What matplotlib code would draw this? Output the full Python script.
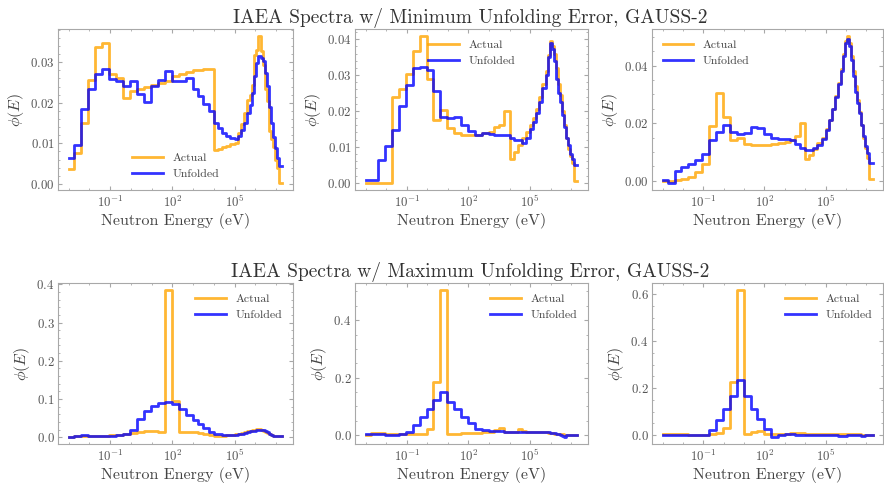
import numpy as np
import matplotlib
matplotlib.use("Agg")
import matplotlib.pyplot as plt
from matplotlib.ticker import (FixedLocator, LogFormatterSciNotation, LogLocator,
                               NullFormatter, AutoMinorLocator, MaxNLocator)

# ---------------- data ----------------
energy_edges = [1.0e-3, 1.78e-3, 3.89e-3, 8.51e-3, 1.86e-2, 4.07e-2, 8.91e-2, 0.195,
                0.427, 0.933, 2.0, 4.37, 9.55, 20.9, 45.7, 100.0, 214.0, 468.0, 1.0e3,
                1.78e3, 3.16e3, 5.62e3, 1.0e4, 1.58e4, 2.51e4, 3.98e4, 6.31e4, 1.0e5,
                1.41e5, 2.0e5, 2.82e5, 3.98e5, 5.62e5, 7.08e5, 8.91e5, 1.12e6, 1.41e6,
                1.78e6, 2.24e6, 2.82e6, 3.55e6, 4.47e6, 5.62e6, 7.08e6, 8.91e6, 1.12e7,
                1.41e7, 2.0e7]

min1_actual = [.0036, .0077, .015, .0257, .0337, .0348, .027, .0261, .0212, .0228,
               .0235, .024, .0245, .025, .0255, .0266, .0271, .0275, .028, .0282,
               .0284, .0284, .0084, .0087, .009, .0094, .0098, .0101, .0126, .0147,
               .0175, .0208, .022, .0245, .0319, .033, .0364, .0327, .0294, .0233,
               .0204, .013, .011, .009, .006, .004, .0003]
min1_unfolded = [.0065, .0096, .0184, .0233, .027, .0283, .0259, .0255, .0241, .0253,
                 .0222, .0202, .0241, .0257, .0278, .0253, .0255, .026, .0233, .0216,
                 .0196, .018, .015, .0139, .0126, .0118, .0112, .011, .0118, .0132,
                 .015, .0175, .0195, .0225, .0265, .0298, .0315, .031, .0302, .0274,
                 .0241, .019, .015, .0115, .0089, .0065, .0045]

min2_actual = [0.0, 0.0, 0.0, 0.0, .0238, .0261, .0303, .0368, .0408, .029,
               .0176, .0204, .0153, .0139, .0134, .0132, .0134, .0138, .0142, .0155,
               .016, .02, .0065, .0085, .0105, .0125, .014, .016, .018, .0205,
               .024, .0275, .031, .0355, .0395, .038, .036, .032, .0275, .0245,
               .02, .016, .0125, .0095, .0075, .0055, .0005]
min2_unfolded = [.0008, .0008, .0064, .0101, .0148, .0213, .0273, .032, .0322, .0315,
                 .0255, .0182, .0179, .0182, .0162, .0143, .0133, .0138, .0136, .0133,
                 .0132, .0132, .0125, .012, .012, .011, .0125, .015, .017, .0195,
                 .0225, .0265, .030, .035, .039, .0372, .034, .029, .025, .0225,
                 .019, .0155, .0125, .0105, .008, .0065, .005]

min3_actual = [0.0, 0.0, .0003, .0005, .0013, .003, .0058, .019, .0305, .0222,
               .0142, .015, .0129, .0125, .0125, .0125, .0127, .013, .0135, .014,
               .0155, .0201, .0075, .009, .011, .013, .015, .0178, .021, .025,
               .0295, .034, .039, .044, .0485, .0502, .048, .0435, .038, .033,
               .028, .024, .0195, .015, .0115, .008, .0007]
min3_unfolded = [.0001, -.0007, .0033, .0047, .0058, .0072, .0093, .0141, .017, .0193,
                 .017, .0161, .0167, .0186, .0184, .0161, .015, .0145, .0145, .0143,
                 .0127, .0113, .0107, .0106, .0112, .0125, .0145, .0175, .021, .025,
                 .029, .0335, .038, .0435, .048, .0493, .047, .042, .0365, .031,
                 .027, .0235, .0195, .0155, .012, .0095, .006]

max1_actual = [.002, .003, .003, .004, .004, .005, .006, .007, .009, .012,
               .015, .018, .018, .013, .384, .094, .013, .015, .015, .012,
               .008, .006, .005, .005, .005, .006, .007, .008, .01, .012,
               .014, .016, .018, .019, .02, .021, .021, .02, .018, .015,
               .011, .008, .006, .005, .005, .005, .005]
max1_unfolded = [.002, .004, .006, .004, .003, .003, .004, .006, .01, .02,
                 .047, .069, .082, .09, .093, .088, .075, .058, .045, .034,
                 .024, .015, .01, .008, .006, .006, .006, .007, .008, .01,
                 .012, .014, .016, .017, .018, .019, .02, .02, .02, .018,
                 .015, .01, .006, .004, .003, .003, .003]

max2_actual = [.002, .007, .007, .005, .004, .004, .004, .005, .006, .023,
               .185, .504, .006, .006, .007, .008, .009, .01, .012, .018,
               .025, .012, .01, .012, .02, .015, .012, .012, .012, .012,
               .012, .011, .01, .009, .008, .007, .006, .005, .005, .004,
               .003, .002, .002, .002, .002, .002, .002]
max2_unfolded = [.003, .006, .005, .002, .002, .003, .012, .035, .064, .093,
                 .122, .151, .116, .093, .064, .041, .02, .017, .016, .015,
                 .014, .013, .012, .012, .012, .011, .01, .01, .01, .01,
                 .011, .011, .011, .01, .009, .008, .007, .005, .003, .0,
                 -.004, -.005, .0, .002, .002, .002, .002]

max3_actual = [.004, .004, .004, .003, .002, .0, .002, .005, .01, .028,
               .226, .617, .005, .011, .016, .003, .004, .005, .006, .008,
               .009, .008, .006, .005, .005, .005, .004, .004, .004, .003,
               .003, .003, .003, .003, .003, .003, .003, .003, .003, .003,
               .003, .003, .002, .002, .002, .002, .002]
max3_unfolded = [.001, .001, .0, .0, .0, .0, .002, .021, .064, .113,
                 .167, .233, .167, .113, .068, .024, -.007, .002, .003, .003,
                 .002, .002, .002, .001, .001, .001, .0, .0, .0, .0,
                 -.001, -.002, -.003, -.003, -.002, -.001, .0, .0, .001, .001,
                 .0, -.001, -.002, -.002, -.001, .0, .0]

series_labels = ["Actual", "Unfolded"]
row_titles = ["IAEA Spectra w/ Minimum Unfolding Error, GAUSS-2",
              "IAEA Spectra w/ Maximum Unfolding Error, GAUSS-2"]
x_label = "Neutron Energy (eV)"
y_label = r"$\phi(E)$"
x_major_ticks = [1e-1, 1e2, 1e5]

# ---------------- style ----------------
plt.rcParams.update({
    "font.family": "serif",
    "font.serif": ["cmr10"],
    "mathtext.fontset": "cm",
    "axes.formatter.use_mathtext": True,
    "axes.unicode_minus": False,
    "axes.edgecolor": "#a8a8a8",
    "axes.linewidth": 0.8,
    "xtick.direction": "in",
    "ytick.direction": "in",
    "xtick.top": True,
    "ytick.right": True,
    "xtick.color": "#a8a8a8",
    "ytick.color": "#a8a8a8",
    "xtick.labelcolor": "#555555",
    "ytick.labelcolor": "#555555",
    "xtick.labelsize": 9.3,
    "ytick.labelsize": 9.3,
    "xtick.major.size": 3,
    "ytick.major.size": 3,
    "xtick.minor.size": 1.5,
    "ytick.minor.size": 1.5,
    "xtick.major.pad": 3,
    "ytick.major.pad": 2.5,
})

ORANGE = "#FFA500"
BLUE = "#0000FF"

fig = plt.figure(figsize=(8.84, 4.83), dpi=100)

W, H = 884.0, 483.0
lefts = [58, 355, 652]
widths = [235, 233, 231]
row_bottoms = [190, 444]
ax_h = 161

data = [[(min1_actual, min1_unfolded), (min2_actual, min2_unfolded), (min3_actual, min3_unfolded)],
        [(max1_actual, max1_unfolded), (max2_actual, max2_unfolded), (max3_actual, max3_unfolded)]]
legend_locs = [["lower center", "upper center", "upper left"],
               ["upper right", "upper right", "upper right"]]

edges = np.array(energy_edges)
for r in range(2):
    for c in range(3):
        ax = fig.add_axes([lefts[c] / W, 1 - row_bottoms[r] / H, widths[c] / W, ax_h / H])
        act, unf = data[r][c]
        ax.plot(edges, np.append(act, act[-1]), drawstyle="steps-post",
                color=ORANGE, alpha=0.8, lw=2.0, label=series_labels[0])
        ax.plot(edges, np.append(unf, unf[-1]), drawstyle="steps-post",
                color=BLUE, alpha=0.8, lw=2.0, label=series_labels[1])
        ax.set_xscale("log")
        ax.xaxis.set_major_locator(FixedLocator(x_major_ticks))
        ax.xaxis.set_major_formatter(LogFormatterSciNotation())
        ax.xaxis.set_minor_locator(LogLocator(base=10, subs=(1.0,), numticks=30))
        ax.xaxis.set_minor_formatter(NullFormatter())
        ax.yaxis.set_major_locator(MaxNLocator(nbins=5, steps=[1, 2, 2.5, 5, 10]))
        ax.yaxis.set_minor_locator(AutoMinorLocator())
        ax.set_xlabel(x_label, fontsize=11.5, color="#444444", labelpad=2)
        ax.set_ylabel(y_label, fontsize=11.5, color="#444444", labelpad=3)
        ax.legend(loc=legend_locs[r][c], frameon=False, fontsize=8.5,
                  handlelength=2.6, labelcolor="#444444")

title_baselines = [23.3, 277.3]
for r in range(2):
    fig.text(470.5 / W, 1 - title_baselines[r] / H, row_titles[r], fontsize=14,
             ha="center", va="baseline", color="#333333")

fig.savefig("out.png", dpi=100)
